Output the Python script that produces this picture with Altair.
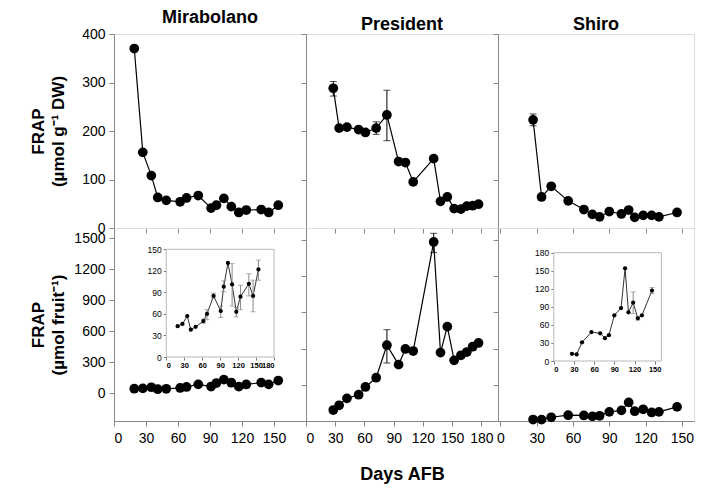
import altair as alt
import pandas as pd

FONT = "Liberation Sans"

# ---------------- data ----------------
mir_days = [19, 27, 35, 41, 49, 62, 68, 79, 91, 96, 103, 110, 117, 124, 138, 145, 154]
mir_dw = [370, 156, 108, 63, 57, 54, 62, 67, 41, 47, 61, 44, 32, 37, 38, 32, 47]
mir_fruit = [43, 46, 57, 38, 42, 50, 60, 85, 64, 98, 131, 101, 63, 84, 102, 85, 122]
mir_fruit_lo = [None, None, None, None, None, 47, 52, 82, 55, 91, None, 71, 56, 66, 85, 63, 107]
mir_fruit_hi = [None, None, None, None, None, 53, 66, 89, 71, 106, None, 130, 69, 100, 116, 107, 135]

pres_days = [28, 34, 42, 54, 61, 72, 83, 95, 102, 110, 131, 138, 145, 152, 159, 165, 171, 177]
pres_dw = [288, 206, 208, 203, 197, 206, 233, 137, 135, 95, 143, 55, 64, 40, 39, 45, 46, 49]
pres_dw_lo = [272, None, None, None, None, 193, 180, None, None, None, None, None, None, None, None, None, None, None]
pres_dw_hi = [302, None, None, None, None, 219, 284, None, None, None, None, None, None, None, None, None, None, None]
pres_fruit = [91, 130, 188, 218, 282, 359, 628, 467, 597, 580, 1484, 567, 782, 503, 545, 572, 616, 647]
pres_fruit_lo = [None, None, None, None, None, None, 481, None, None, None, 1396, None, None, None, None, None, None, None]
pres_fruit_hi = [None, None, None, None, None, None, 757, None, None, None, 1556, None, None, None, None, None, None, None]

shiro_days = [27, 34, 42, 56, 69, 76, 82, 90, 100, 106, 111, 118, 125, 131, 146]
shiro_dw = [223, 64, 86, 56, 38, 28, 23, 34, 29, 37, 22, 26, 26, 23, 32]
shiro_dw_lo = [211, None, None, None, None, None, None, None, None, None, None, None, None, None, None]
shiro_dw_hi = [235, None, None, None, None, None, None, None, None, None, None, None, None, None, None]
shiro_fruit = [12, 11, 31, 48, 46, 38, 43, 76, 88, 154, 81, 97, 71, 76, 117]
shiro_fruit_lo = [None, None, None, None, None, None, None, None, None, None, None, 79, 68, None, 112]
shiro_fruit_hi = [None, None, None, None, None, None, None, None, None, None, None, 115, 74, None, 122]

cultivars = ["Mirabolano", "President", "Shiro"]
title_dw = ["FRAP", "(µmol g⁻¹ DW)"]
title_fruit = ["FRAP", "(µmol fruit⁻¹)"]
x_title = "Days AFB"

# axis tick values
mir_xticks = [0, 30, 60, 90, 120, 150]
pres_xticks = [0, 30, 60, 90, 120, 150, 180]
shiro_xticks = [0, 30, 60, 90, 120, 150]
dw_ticks = [0, 100, 200, 300, 400]
fruit_ticks = [0, 300, 600, 900, 1200, 1500]
mir_inset_xticks = [0, 30, 60, 90, 120, 150, 180]
mir_inset_yticks = [0, 30, 60, 90, 120, 150]
shiro_inset_xticks = [0, 30, 60, 90, 120, 150]
shiro_inset_yticks = [0, 30, 60, 90, 120, 150, 180]

# scale domains
mir_xdom = [0, 180]
pres_xdom = [0, 197]
shiro_xdom = [-2, 160]
dw_dom = [0, 400]
mir_fruit_dom = [-270, 1600]
other_fruit_dom = [0, 1600]
mir_inset_xdom = [0, 180]
mir_inset_ydom = [0, 150]
shiro_inset_xdom = [0, 160]
shiro_inset_ydom = [0, 180]


def frame(days, vals, lo=None, hi=None):
    n = len(days)
    return pd.DataFrame({
        "day": days,
        "val": vals,
        "lo": lo if lo is not None else [None] * n,
        "hi": hi if hi is not None else [None] * n,
    })


def series(df, xscale, yscale, xaxis, yaxis, dot, lcolor, lwidth, ecolor, cap):
    base = alt.Chart(df)
    x = alt.X("day:Q", scale=xscale, axis=xaxis)
    yv = alt.Y("val:Q", scale=yscale, axis=yaxis)
    line = base.mark_line(color=lcolor, strokeWidth=lwidth).encode(x=x, y=yv)
    errs = base.transform_filter("isValid(datum.lo)")
    rule = errs.mark_rule(color=ecolor, strokeWidth=1).encode(
        x=x, y=alt.Y("lo:Q", scale=yscale, axis=yaxis), y2="hi:Q")
    cap_lo = errs.mark_tick(orient="horizontal", size=cap, thickness=1, color=ecolor).encode(
        x=x, y=alt.Y("lo:Q", scale=yscale, axis=yaxis))
    cap_hi = errs.mark_tick(orient="horizontal", size=cap, thickness=1, color=ecolor).encode(
        x=x, y=alt.Y("hi:Q", scale=yscale, axis=yaxis))
    pts = base.mark_circle(color="black", size=dot, opacity=1).encode(x=x, y=yv)
    return [line, rule, cap_lo, cap_hi, pts]


W = [192, 192, 196]
H_TOP = 194
H_BOT = 193


def main_x_axis(values, labels, title=None):
    kw = dict(values=values, labels=labels, orient="bottom", tickSize=5, format="d",
              labelPadding=5, labelFontSize=14, grid=False, labelOverlap=False)
    if title:
        kw.update(title=title, titleFontSize=18, titleFontWeight="bold", titlePadding=20)
    else:
        kw.update(title=None)
    return alt.Axis(**kw)


def main_y_axis(values, labels, title=None, tpad=10):
    kw = dict(values=values, labels=labels, orient="left", tickSize=5, format="d",
              labelPadding=4, labelFontSize=14, grid=False, labelOverlap=False)
    if title:
        kw.update(title=title, titleFontSize=17, titleFontWeight="bold", titlePadding=tpad,
                  titleLineHeight=20)
    else:
        kw.update(title=None)
    return alt.Axis(**kw)


def col_title(text):
    return alt.TitleParams(text, fontSize=18, fontWeight="bold", font=FONT, color="black",
                           anchor="middle", offset=0, frame="group")


def inset_layers(df, xdom, ydom, xrange, yrange, xticks, yticks, w, h):
    xs = alt.Scale(domain=xdom, range=xrange, nice=False, zero=False)
    ys = alt.Scale(domain=ydom, range=yrange, nice=False, zero=False)
    xa = alt.Axis(values=xticks, orient="bottom", offset=-(h - yrange[0]), tickSize=3,
                  labelPadding=1, labelFontSize=7.5, labelFontWeight="bold", domain=False,
                  tickColor="#777", title=None, grid=False, labelOverlap=False, format="d")
    ya = alt.Axis(values=yticks, orient="left", offset=-xrange[0], tickSize=3,
                  labelPadding=2, labelFontSize=8.5, domain=False, tickColor="#777",
                  title=None, grid=False, labelOverlap=False, format="d")
    fr = pd.DataFrame({"x0": [xdom[0]], "x1": [xdom[1]], "y0": [ydom[0]], "y1": [ydom[1]]})
    rect = alt.Chart(fr).mark_rect(fill="white", stroke="#b8b8b8", strokeWidth=1).encode(
        x=alt.X("x0:Q", scale=xs, axis=xa), x2="x1:Q",
        y=alt.Y("y0:Q", scale=ys, axis=ya), y2="y1:Q")
    return [rect] + series(df, xs, ys, xa, ya, 18, "#333333", 1, "#8a8a8a", 5)


# ---------------- panels ----------------
dw_scale = alt.Scale(domain=dw_dom, nice=False, zero=False)
mx = alt.Scale(domain=mir_xdom, nice=False, zero=False)
px = alt.Scale(domain=pres_xdom, nice=False, zero=False)
sx = alt.Scale(domain=shiro_xdom, nice=False, zero=False)

# top row (per g DW)
p_mir_top = alt.layer(*series(
    frame(mir_days, mir_dw), mx, dw_scale,
    main_x_axis(mir_xticks, False), main_y_axis(dw_ticks, True, title_dw, 14),
    95, "black", 1.2, "black", 7)).properties(width=W[0], height=H_TOP, title=col_title(cultivars[0]))

p_pres_top = alt.layer(*series(
    frame(pres_days, pres_dw, pres_dw_lo, pres_dw_hi), px, dw_scale,
    main_x_axis(pres_xticks, False), main_y_axis(dw_ticks, False),
    95, "black", 1.2, "black", 7)).properties(width=W[1], height=H_TOP, title=col_title(cultivars[1]))

p_shiro_top = alt.layer(*series(
    frame(shiro_days, shiro_dw, shiro_dw_lo, shiro_dw_hi), sx, dw_scale,
    main_x_axis(shiro_xticks, False), main_y_axis(dw_ticks, False),
    95, "black", 1.2, "black", 7)).properties(width=W[2], height=H_TOP, title=col_title(cultivars[2]))

# bottom row (per fruit)
mir_fs = alt.Scale(domain=mir_fruit_dom, nice=False, zero=False)
oth_fs = alt.Scale(domain=other_fruit_dom, nice=False, zero=False)

mir_df = frame(mir_days, mir_fruit, mir_fruit_lo, mir_fruit_hi)
mir_main = alt.layer(*series(
    mir_df, mx, mir_fs, main_x_axis(mir_xticks, True),
    main_y_axis(fruit_ticks, True, title_fruit, 6), 95, "black", 1.2, "black", 7))
mir_inset = alt.layer(*inset_layers(
    mir_df, mir_inset_xdom, mir_inset_ydom, [52.3, 160], [129, 21.3],
    mir_inset_xticks, mir_inset_yticks, W[0], H_BOT))
p_mir_bot = alt.layer(mir_main, mir_inset).resolve_scale(
    x="independent", y="independent").properties(width=W[0], height=H_BOT)

p_pres_bot = alt.layer(*series(
    frame(pres_days, pres_fruit, pres_fruit_lo, pres_fruit_hi), px, oth_fs,
    main_x_axis(pres_xticks, True, x_title), main_y_axis(fruit_ticks, False),
    95, "black", 1.2, "black", 7)).properties(width=W[1], height=H_BOT)

shiro_df = frame(shiro_days, shiro_fruit, shiro_fruit_lo, shiro_fruit_hi)
shiro_main = alt.layer(*series(
    shiro_df, sx, oth_fs, main_x_axis(shiro_xticks, True),
    main_y_axis(fruit_ticks, False), 95, "black", 1.2, "black", 7))
shiro_inset = alt.layer(*inset_layers(
    shiro_df, shiro_inset_xdom, shiro_inset_ydom, [55.8, 163.4], [133, 24.7],
    shiro_inset_xticks, shiro_inset_yticks, W[2], H_BOT))
p_shiro_bot = alt.layer(shiro_main, shiro_inset).resolve_scale(
    x="independent", y="independent").properties(width=W[2], height=H_BOT)

chart = alt.concat(
    p_mir_top, p_pres_top, p_shiro_top, p_mir_bot, p_pres_bot, p_shiro_bot,
    columns=3, spacing=0, bounds="flush",
).resolve_scale(x="independent", y="independent").properties(
    padding={"left": 21, "top": 0, "right": 5, "bottom": 5}
).configure_view(stroke="#8f8f8f", strokeWidth=1).configure_axis(
    labelFont=FONT, titleFont=FONT, labelColor="black", titleColor="black",
    domainColor="#555555", tickColor="#555555", grid=False,
).configure_title(
    font=FONT, fontSize=18, fontWeight="bold", color="black", anchor="middle", offset=0
).configure(background="white")

chart.save("out.html", embed_options={"renderer": "svg", "actions": False})
